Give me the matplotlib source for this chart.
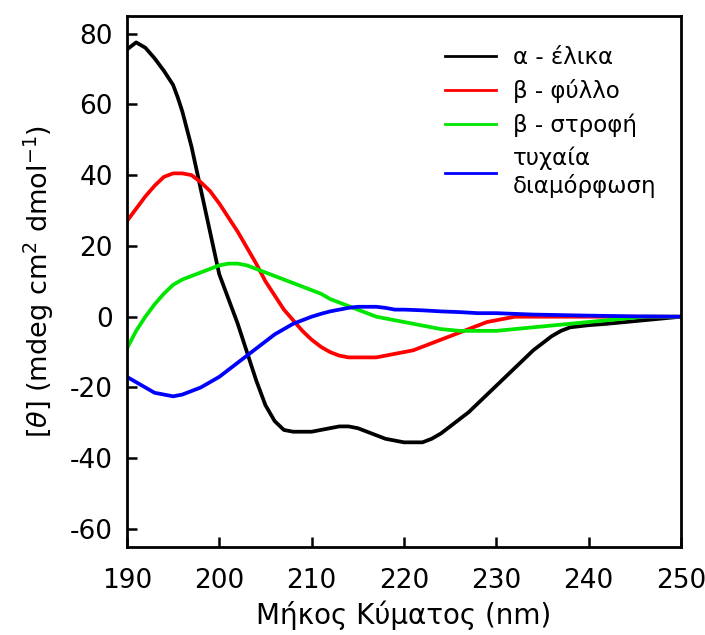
import matplotlib
matplotlib.use("Agg")
import matplotlib.pyplot as plt

plt.rcParams['font.family'] = ['DejaVu Sans']
plt.rcParams['mathtext.fontset'] = 'dejavusans'
plt.rcParams['axes.unicode_minus'] = False

# wavelength (nm) and ellipticity values
helix_x = [190, 191, 192, 193, 194, 195, 195.5, 196, 196.5, 197, 197.5, 198, 199, 200, 201,
           202, 203, 204, 205, 206, 207, 208, 209, 210, 211, 212, 213, 214, 215, 216,
           217, 218, 219, 220, 221, 222, 223, 224, 225, 226, 227, 228, 229, 230, 231,
           232, 233, 234, 235, 236, 237, 238, 239, 240, 242, 244, 246, 248, 250]
helix_y = [75.5, 77.5, 76, 73, 69.5, 65.5, 62, 58, 53, 48, 42, 36, 24, 12, 5,
           -2, -10, -18, -25, -29.5, -32, -32.5, -32.5, -32.5, -32, -31.5, -31, -31, -31.5, -32.5,
           -33.5, -34.5, -35, -35.5, -35.5, -35.5, -34.5, -33, -31, -29, -27, -24.5, -22, -19.5, -17,
           -14.5, -12, -9.5, -7.5, -5.5, -4, -3, -2.7, -2.4, -2, -1.5, -1, -0.5, 0]

sheet_x = [190, 191, 192, 193, 194, 195, 196, 197, 198, 199, 200, 201, 202, 203, 204,
           205, 206, 207, 208, 209, 210, 211, 212, 213, 214, 215, 216, 217, 218, 219,
           220, 221, 222, 223, 224, 225, 226, 227, 228, 229, 230, 231, 232, 250]
sheet_y = [27, 30.5, 34, 37, 39.5, 40.5, 40.5, 40, 38, 35.5, 32, 28, 24, 19.5, 15,
           10, 6, 2, -1, -4, -6.5, -8.5, -10, -11, -11.5, -11.5, -11.5, -11.5, -11, -10.5,
           -10, -9.5, -8.5, -7.5, -6.5, -5.5, -4.5, -3.5, -2.5, -1.5, -1, -0.5, 0, 0]

turn_x = [190, 191, 192, 193, 194, 195, 196, 197, 198, 199, 200, 201, 202, 203, 204,
          205, 206, 207, 208, 209, 210, 211, 212, 213, 214, 215, 216, 217, 218, 219,
          220, 221, 222, 223, 224, 226, 228, 230, 232, 234, 236, 238, 240, 242, 244, 246, 250]
turn_y = [-9, -4, 0, 3.5, 6.5, 9, 10.5, 11.5, 12.5, 13.5, 14.5, 15, 15, 14.5, 13.5,
          12.5, 11.5, 10.5, 9.5, 8.5, 7.5, 6.5, 5, 4, 3, 2, 1, 0, -0.5, -1,
          -1.5, -2, -2.5, -3, -3.5, -4, -4, -4, -3.5, -3, -2.5, -2, -1.5, -1, -0.5, 0, 0]

coil_x = [190, 191, 192, 193, 194, 195, 196, 197, 198, 199, 200, 201, 202, 203, 204,
          205, 206, 207, 208, 209, 210, 211, 212, 213, 214, 215, 216, 217, 218, 219,
          220, 222, 224, 226, 228, 230, 232, 234, 236, 238, 240, 245, 250]
coil_y = [-17, -18.5, -20, -21.5, -22, -22.5, -22, -21, -20, -18.5, -17, -15, -13, -11, -9,
          -7, -5, -3.5, -2, -1, 0, 0.8, 1.5, 2, 2.5, 2.8, 2.8, 2.8, 2.5, 2,
          2, 1.8, 1.5, 1.3, 1, 1, 0.8, 0.6, 0.5, 0.4, 0.3, 0.1, 0]

labels = ['α - έλικα', 'β - φύλλο', 'β - στροφή', 'τυχαία\nδιαμόρφωση']
colors = ['black', '#ff0000', '#00e600', '#0000ff']

fig = plt.figure(figsize=(7.05, 6.35), dpi=100)
ax = fig.add_axes([0.180, 0.139, 0.786, 0.836])

series = [(helix_x, helix_y), (sheet_x, sheet_y), (turn_x, turn_y), (coil_x, coil_y)]
for (xs, ys), lab, c in zip(series, labels, colors):
    ax.plot(xs, ys, color=c, lw=2.7, label=lab)

ax.set_xlim(190, 250)
ax.set_ylim(-65, 85)
ax.set_xticks(range(190, 251, 10))
ax.set_yticks(range(-60, 81, 20))
ax.tick_params(direction='in', length=7, width=1.8, labelsize=19,
               top=False, right=False)
ax.tick_params(axis='x', pad=15)
ax.tick_params(axis='y', pad=10)
for sp in ax.spines.values():
    sp.set_linewidth(2)

ax.set_xlabel('Μήκος Κύματος (nm)', fontsize=20, labelpad=5)
ax.set_ylabel(r'[$\theta$] (mdeg cm$^2$ dmol$^{-1}$)', fontsize=19.5, labelpad=10)

leg = ax.legend(loc='upper right', frameon=False, fontsize=16.5, handlelength=2.2,
                handletextpad=0.75, bbox_to_anchor=(0.993, 0.982), labelspacing=0.44)
for ln in leg.get_lines():
    ln.set_linewidth(2)

fig.savefig('out.png', dpi=100)
